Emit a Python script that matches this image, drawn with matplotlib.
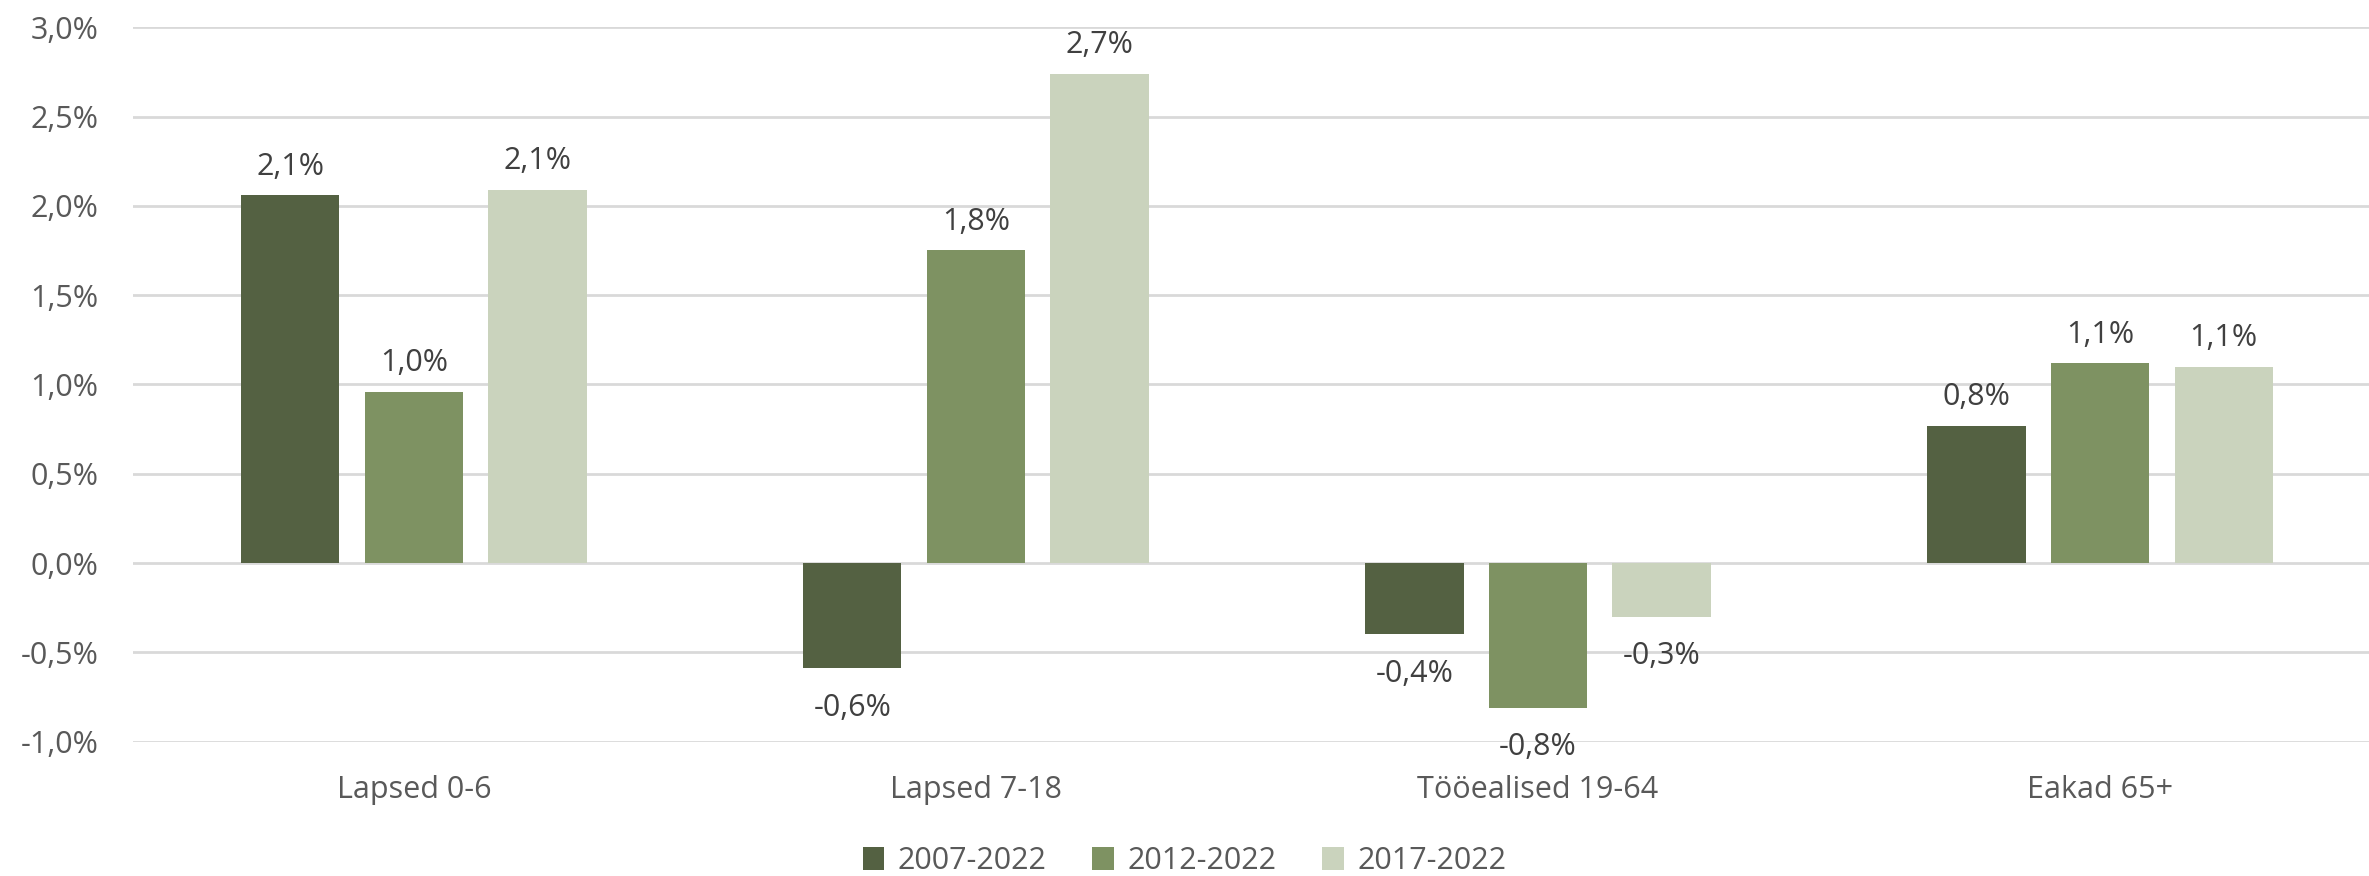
import matplotlib

matplotlib.use("Agg")
import matplotlib.pyplot as plt
import numpy as np

plt.rcParams["font.family"] = ["Open Sans", "DejaVu Sans"]

categories = ["Lapsed 0-6", "Lapsed 7-18", "Tööealised 19-64", "Eakad 65+"]
series_names = ["2007-2022", "2012-2022", "2017-2022"]
v_2007 = [2.06, -0.59, -0.40, 0.77]
v_2012 = [0.96, 1.75, -0.81, 1.12]
v_2017 = [2.09, 2.74, -0.30, 1.10]
colors = ["#546142", "#7E9262", "#CAD3BD"]
yticks = [-1.0, -0.5, 0.0, 0.5, 1.0, 1.5, 2.0, 2.5, 3.0]


def fmt(v):
    return f"{v:.1f}".replace(".", ",") + "%"


fig = plt.figure(figsize=(23.69, 8.76), dpi=100)
ax = fig.add_axes([0.0561, 0.1534, 0.949, 0.8155])

x = np.arange(len(categories))
pitch, width = 0.22, 0.175
for i, (vals, name, c) in enumerate(zip([v_2007, v_2012, v_2017], series_names, colors)):
    pos = x + (i - 1) * pitch
    ax.bar(pos, vals, width, color=c, label=name, zorder=3)
    for p, v in zip(pos, vals):
        off = 0.075 if v >= 0 else -0.135
        ax.text(p, v + off, fmt(round(v, 1)), ha="center",
                va="bottom" if v >= 0 else "top", fontsize=22, color="#404040")

ax.set_xlim(-0.5, len(categories) - 0.5)
ax.set_ylim(-1.0, 3.0)
ax.set_yticks(yticks, [fmt(t) for t in yticks])
ax.set_xticks(x, categories)
ax.tick_params(axis="both", length=0, labelsize=22, colors="#595959")
ax.tick_params(axis="x", pad=24)
ax.tick_params(axis="y", pad=25)
ax.yaxis.grid(True, color="#D9D9D9", linewidth=2, zorder=0)
for s in ax.spines.values():
    s.set_visible(False)

fig.legend(loc="center", bbox_to_anchor=(0.5, 0.017), ncol=3, frameon=False,
           fontsize=22, labelcolor="#595959", handlelength=0.7, handleheight=0.8,
           handletextpad=0.45, columnspacing=1.5)

fig.savefig("out.png", dpi=100)
